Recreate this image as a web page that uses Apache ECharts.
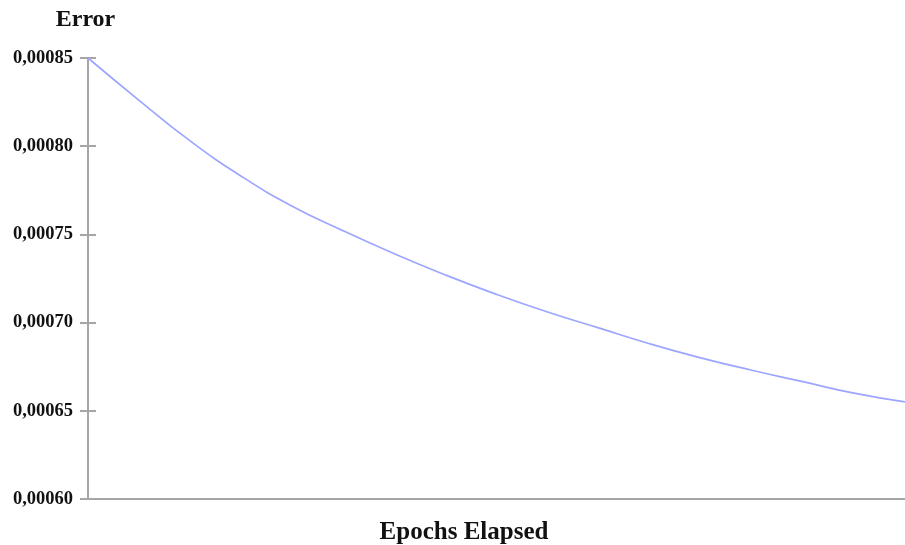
<!DOCTYPE html>
<html>
<head>
<meta charset="utf-8">
<script src="https://cdn.jsdelivr.net/npm/echarts@6/dist/echarts.min.js"></script>
<style>
  html, body { margin: 0; padding: 0; background: #fff; }
  #chart { width: 905px; height: 545px; }
</style>
</head>
<body>
<div id="chart"></div>
<script>
// Training error per epoch
const epochs = [0, 50, 100, 150, 200, 250, 300, 350, 400, 450, 500, 550, 600, 650, 700, 750, 800];
const errors = [0.000850, 0.000826, 0.000803, 0.000783, 0.000766, 0.000752, 0.000739, 0.000727,
                0.000716, 0.000706, 0.000697, 0.000688, 0.000680, 0.000673, 0.0006665, 0.000660, 0.000655];
const yTicks = [0.00060, 0.00065, 0.00070, 0.00075, 0.00080, 0.00085];

const serif = '"Liberation Serif", "Times New Roman", serif';
const axisGrey = '#a6a6a6';
const fmt = v => v.toFixed(5).replace('.', ',');

const chart = echarts.init(document.getElementById('chart'));
const yCommon = {
  type: 'value',
  min: yTicks[0],
  max: yTicks[yTicks.length - 1],
  interval: yTicks[1] - yTicks[0],
  splitLine: { show: false }
};
chart.setOption({
  animation: false,
  grid: { left: 88, right: 0, top: 58, bottom: 46, containLabel: false, outerBoundsMode: 'none' },
  xAxis: {
    type: 'value',
    min: epochs[0],
    max: epochs[epochs.length - 1],
    name: 'Epochs Elapsed',
    nameLocation: 'middle',
    nameGap: 21,
    nameTextStyle: {
      fontFamily: serif, fontWeight: 'bold', fontSize: 25, color: '#111',
      padding: [0, 65, 0, 0]
    },
    axisLine: { lineStyle: { color: axisGrey, width: 2 } },
    axisTick: { show: false },
    axisLabel: { show: false },
    splitLine: { show: false }
  },
  yAxis: [
    Object.assign({}, yCommon, {
      name: 'Error',
      nameLocation: 'end',
      nameGap: 26,
      nameTextStyle: {
        fontFamily: serif, fontWeight: 'bold', fontSize: 24, color: '#111', align: 'center',
        padding: [0, 5, 0, 0]
      },
      axisLine: { show: true, lineStyle: { color: axisGrey, width: 2 } },
      axisTick: { show: true, length: 8, lineStyle: { color: axisGrey, width: 2 } },
      axisLabel: {
        margin: 15,
        fontFamily: serif, fontWeight: 'bold', fontSize: 18.5, color: '#111',
        formatter: fmt,
        padding: [5, 0, 0, 0]
      }
    }),
    // mirror axis: draws the inner half of each tick so the marks cross the axis line
    Object.assign({}, yCommon, {
      position: 'left',
      offset: 0,
      axisLine: { show: false },
      axisTick: { show: true, inside: true, length: 8, lineStyle: { color: axisGrey, width: 2 } },
      axisLabel: { show: false }
    })
  ],
  series: [{
    type: 'line',
    data: epochs.map((e, i) => [e, errors[i]]),
    smooth: true,
    showSymbol: false,
    lineStyle: { color: '#9ca6ff', width: 1.7 }
  }]
});
</script>
</body>
</html>
